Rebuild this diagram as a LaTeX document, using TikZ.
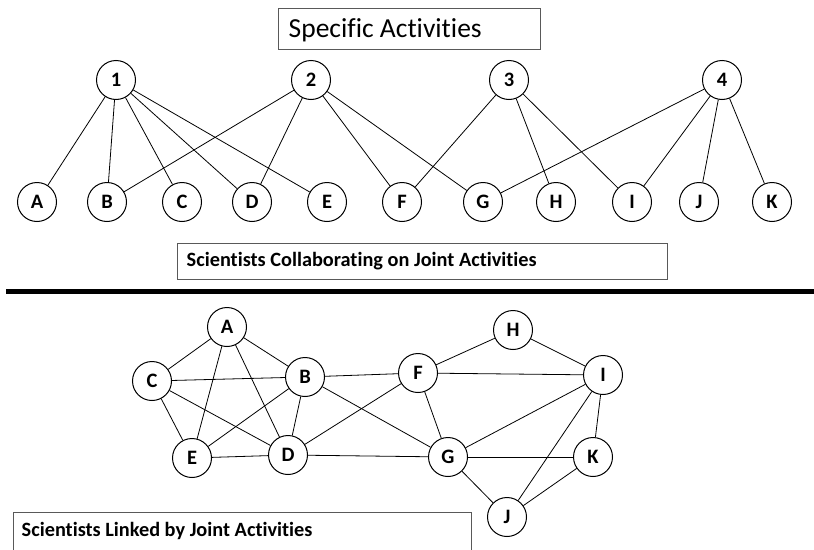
\documentclass[tikz,border=0pt]{standalone}
\usepackage{fontspec}
\setmainfont[Ligatures=NoCommon]{Carlito}
\usepackage{tikz}
\usetikzlibrary{positioning}

\tikzset{
  actv/.style={draw,circle,minimum size=39pt,inner sep=0pt,line width=1pt,
    font=\bfseries\fontsize{20.5}{20.5}\selectfont},
  titlebox/.style={draw=black!65,line width=1pt,rectangle,inner sep=0pt}
}

\begin{document}
\begin{tikzpicture}[x=1pt,y=-1pt,node distance=73pt,line width=0.8pt]
                \useasboundingbox (0,0) rectangle (814,549);
                % titles
                \node[titlebox,minimum width=262pt,minimum height=41pt] (head) at (409,28.5) {};
                \node[anchor=west,font=\fontsize{27.5}{27.5}\selectfont] (headtext) at (285,30) {Specific Activities};
                \node[titlebox,minimum width=490pt,minimum height=36pt] (collab) at (422,261) {};
                \node[anchor=west,font=\bfseries\fontsize{20.3}{20.3}\selectfont] (collabtext) at (183,261) {Scientists Collaborating on Joint Activities};
                \node[titlebox,minimum width=458pt,minimum height=38pt] (linked) at (242,531) {};
                \node[anchor=west,font=\bfseries\fontsize{20.3}{20.3}\selectfont] (linkedtext) at (18,531) {Scientists Linked by Joint Activities};
                \coordinate (ruleL) at (6,291);
                \coordinate (ruleR) at (814,291);
                \draw[line width=5pt] (ruleL) -- (ruleR);

                % activities
                \node[actv] (a1) at (116,80) {1};
                \node[actv] (a2) at (311,80) {2};
                \node[actv] (a3) at (509,80) {3};
                \node[actv] (a4) at (722,80) {4};

                % scientists, top row
                \node[actv] (sA) at (37,202) {A};
                \node[actv] (sB) [right of=sA,xshift=-3pt] {B};
                \node[actv] (sC) [right of=sB,xshift=2pt] {C};
                \node[actv] (sD) [right of=sC,xshift=-3pt] {D};
                \node[actv] (sE) [right of=sD,xshift=2pt] {E};
                \node[actv] (sF) [right of=sE,xshift=2pt] {F};
                \node[actv] (sG) [right of=sF,xshift=8pt] {G};
                \node[actv] (sH) [right of=sG] {H};
                \node[actv] (sI) [right of=sH,xshift=3pt] {I};
                \node[actv] (sJ) [right of=sI,xshift=-6pt] {J};
                \node[actv] (sK) [right of=sJ] {K};

                \draw
                (a1) edge (sA)
                (a1) edge (sB)
                (a1) edge (sC)
                (a1) edge (sD)
                (a1) edge (sE)
                (a2) edge (sB)
                (a2) edge (sD)
                (a2) edge (sF)
                (a2) edge (sG)
                (a3) edge (sF)
                (a3) edge (sH)
                (a3) edge (sI)
                (a4) edge (sG)
                (a4) edge (sI)
                (a4) edge (sJ)
                (a4) edge (sK);

                % scientists, network
                \node[actv] (nA) at (227,327) {A};
                \node[actv] (nC) at (152,381) {C};
                \node[actv] (nB) at (305,377) {B};
                \node[actv] (nE) at (192,458) {E};
                \node[actv] (nD) at (288,455) {D};
                \node[actv] (nF) at (418,373) {F};
                \node[actv] (nH) at (513,330) {H};
                \node[actv] (nI) at (603,375) {I};
                \node[actv] (nG) at (448,457) {G};
                \node[actv] (nK) at (593,457) {K};
                \node[actv] (nJ) at (507,517) {J};

                \draw
                (nA) edge (nC)
                (nA) edge (nB)
                (nA) edge (nE)
                (nA) edge (nD)
                (nC) edge (nB)
                (nC) edge (nE)
                (nC) edge (nD)
                (nB) edge (nE)
                (nB) edge (nD)
                (nB) edge (nF)
                (nB) edge (nG)
                (nE) edge (nD)
                (nD) edge (nF)
                (nD) edge (nG)
                (nF) edge (nH)
                (nF) edge (nI)
                (nF) edge (nG)
                (nH) edge (nI)
                (nI) edge (nG)
                (nI) edge (nJ)
                (nI) edge (nK)
                (nG) edge (nK)
                (nG) edge (nJ)
                (nK) edge (nJ);
            \end{tikzpicture}
\end{document}
